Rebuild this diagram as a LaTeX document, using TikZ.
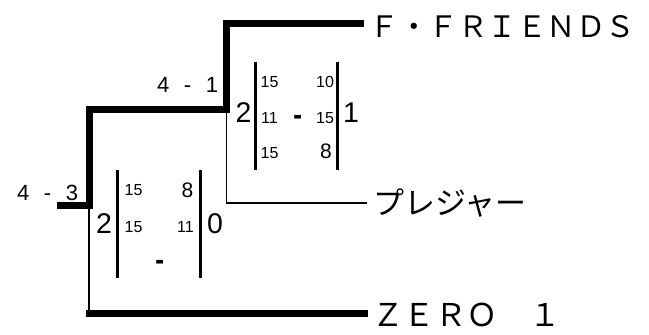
\documentclass[tikz,border=0pt]{standalone}
\usepackage{fontspec}
\usepackage{graphicx}
\setmainfont{Liberation Sans}
\newfontfamily\jp{Noto Sans CJK JP}
\newcommand{\boxminus}{\scalebox{1.25}[2.1]{-}}
\begin{document}
\begin{tikzpicture}[x=1bp,y=-1bp,
  thickline/.style={line width=7bp,line join=miter},
  thinline/.style={line width=1.5bp},
  barline/.style={line width=3bp},
  score/.style={inner sep=0pt,anchor=base west,font=\fontsize{22bp}{24bp}\selectfont},
  big/.style={inner sep=0pt,anchor=base,font=\fontsize{28.5bp}{30bp}\selectfont},
  small/.style={inner sep=0pt,anchor=base,font=\fontsize{16bp}{18bp}\selectfont},
  mid/.style={inner sep=0pt,anchor=base,font=\fontsize{21bp}{23bp}\selectfont},
  minus/.style={inner sep=0pt,anchor=base,font=\fontsize{22bp}{24bp}\selectfont},
  team/.style={inner sep=0pt,anchor=base west}]
\useasboundingbox (0,0) rectangle (649,334);
% junctions
\coordinate (stub) at (57,205);
\coordinate (jA) at (89,205);
\coordinate (jAt) at (89,109);
\coordinate (jB) at (226.5,109);
\coordinate (jBt) at (226.5,23.5);
\coordinate (eF) at (364,23.5);
\coordinate (jBb) at (226.5,203);
\coordinate (eP) at (367,203);
\coordinate (jAb) at (89,313);
\coordinate (jAb0) at (86,313);
\coordinate (eZ) at (368,313);
% teams
\node[team,font=\jp\fontsize{29.5bp}{32bp}\selectfont] (fri) at (369.5,37) {Ｆ・ＦＲＩＥＮＤＳ};
\node[team,font=\jp\fontsize{31bp}{34bp}\selectfont] (ple) at (373,214) {プレジャー};
\node[team,font=\jp\fontsize{31.4bp}{34bp}\selectfont] (zero) at (372,326.7) {ＺＥＲＯ　１};
% bracket
\draw[thickline] (stub) -- (jA) -- (jAt) -- (jB) -- (jBt) -- (eF);
\draw[thinline] (jB) -- (jBb) -- (eP);
\draw[thinline] (jA) -- (jAb);
\draw[thickline] (jAb0) -- (eZ);
% match scores
\node[score] (s43) at (17,200.7) {4\hspace{14.5bp}-\hspace{14.5bp}3};
\node[score] (s41) at (157,92) {4\hspace{14.5bp}-\hspace{14.5bp}1};
% left score box
\node[big] (l2) at (104,233.5) {2};
\node[big] (l0) at (215,233.5) {0};
\coordinate (lb1t) at (117.5,170); \coordinate (lb1b) at (117.5,278);
\coordinate (lb2t) at (200.5,170); \coordinate (lb2b) at (200.5,278);
\draw[barline] (lb1t) -- (lb1b);
\draw[barline] (lb2t) -- (lb2b);
\node[small] (la1) at (133.5,195) {15};
\node[mid] (lb1) at (187.5,197) {8};
\node[small] (la2) at (133.5,232) {15};
\node[small] (lb2) at (185.5,232) {11};
\node[minus] (lm) at (160,274) {\boxminus};
% right score box
\node[big] (r2) at (243.5,122) {2};
\node[big] (r1) at (351,122) {1};
\coordinate (rb1t) at (255.5,62); \coordinate (rb1b) at (255.5,170);
\coordinate (rb2t) at (337.5,62); \coordinate (rb2b) at (337.5,170);
\draw[barline] (rb1t) -- (rb1b);
\draw[barline] (rb2t) -- (rb2b);
\node[small] (ra1) at (269.5,87) {15};
\node[small] (rc1) at (325,87) {10};
\node[small] (ra2) at (269.5,123) {11};
\node[minus] (rm) at (298.5,129) {\boxminus};
\node[small] (rc2) at (325,123) {15};
\node[small] (ra3) at (269.5,158) {15};
\node[mid] (rc3) at (326,158) {8};
\end{tikzpicture}
\end{document}
